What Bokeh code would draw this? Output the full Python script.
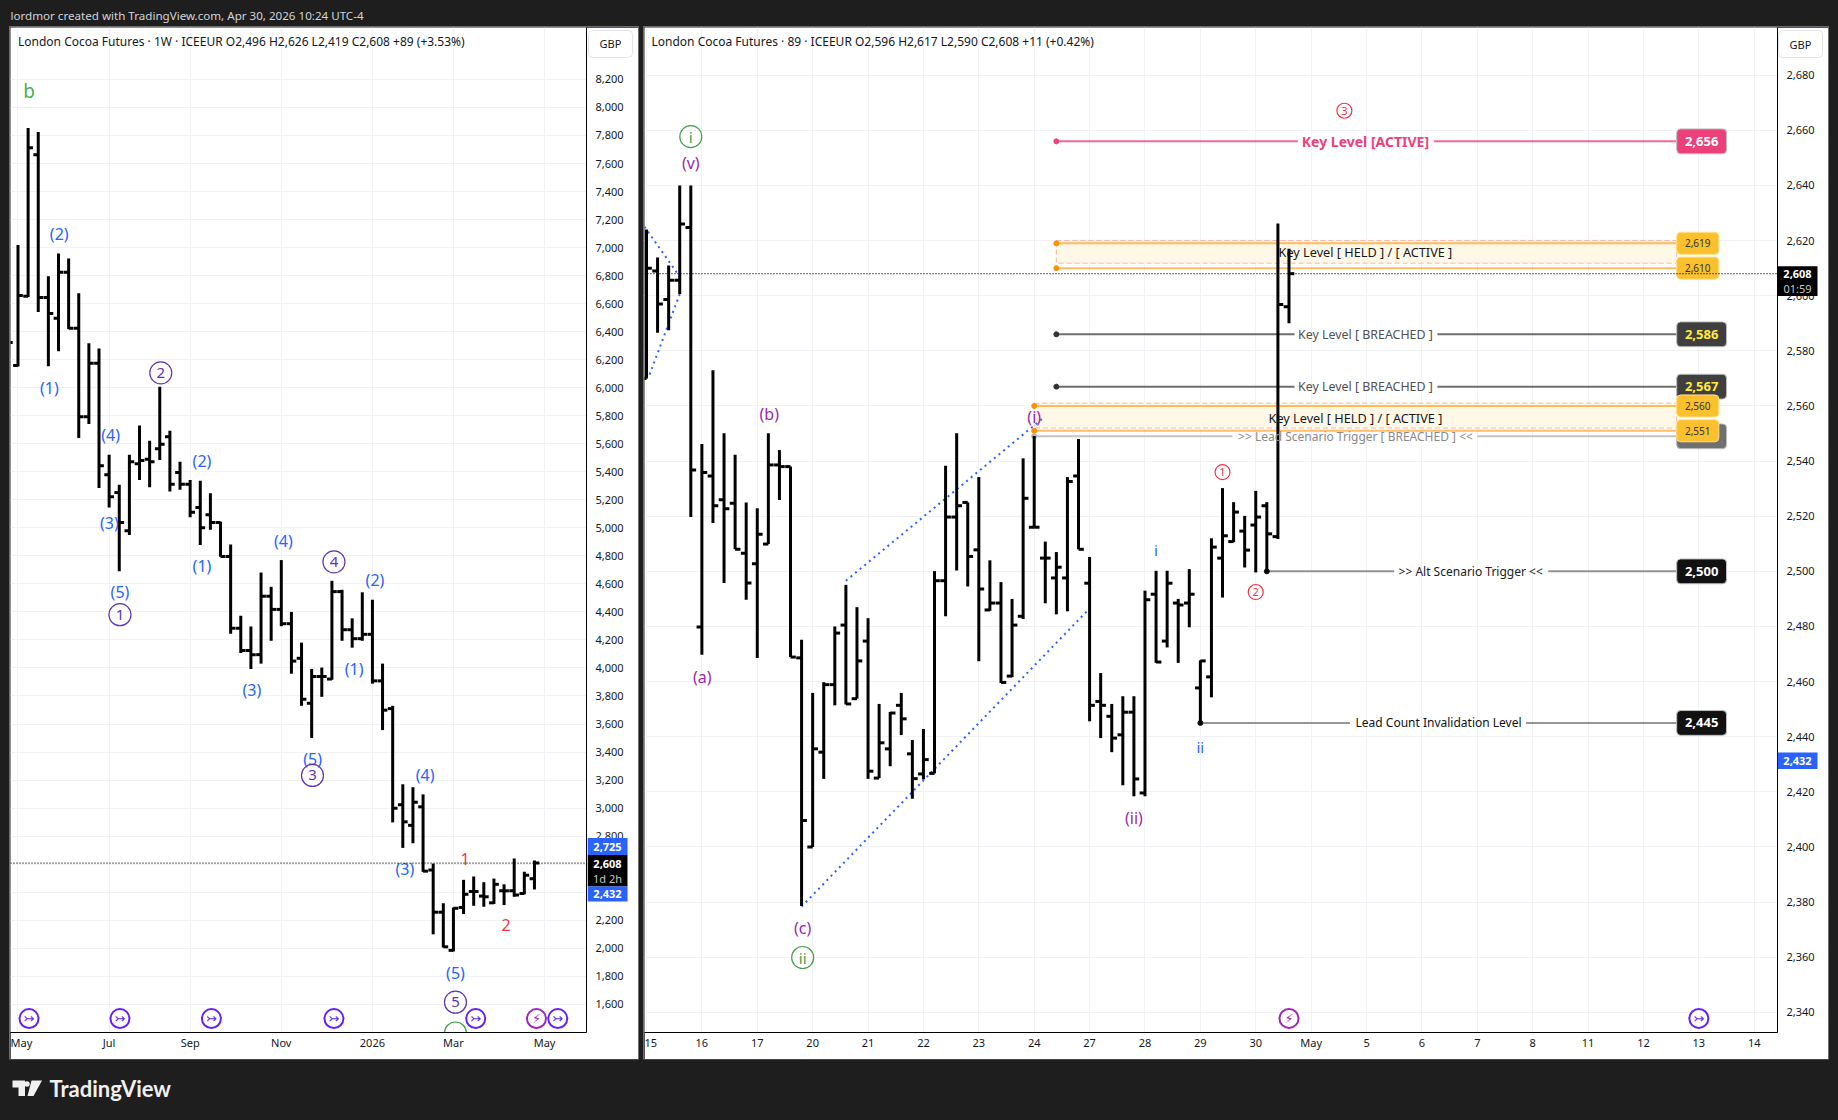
from bokeh.plotting import figure
from bokeh.embed import file_html
from bokeh.resources import INLINE
from bokeh.layouts import column, row
from bokeh.models import (Range1d, FixedTicker, Span, Label, NumeralTickFormatter,
                          GlobalInlineStyleSheet)
from bokeh.core.properties import value

FONT = "Noto Sans"
DARK = "#1e1e1e"
GRID = "#f1f2f5"
BLUE = "#2962ff"
PURPLE = "#5e35b1"
MAGENTA = "#9c27b0"
GREEN = "#43a047"
RED = "#f23645"
VIOLET = "#651fff"

# ---------------- weekly chart data ----------------
w_open = [6500, 6159, 6653, 7662, 6643, 6495, 6824, 6424, 5792, 6174, 5379, 5252, 4979, 5458, 5489, 5565, 5650, 5395,
          5311, 5145, 5094, 5038, 4796, 4283, 4125, 4095, 4512, 4418, 4316, 4069, 3748, 3939, 3921, 4545, 4273, 4209,
          4240, 3908, 3710, 3024, 2877, 3009, 2558, 2257, 1985, 2291, 2405, 2372, 2324, 2410, 2410, 2390, 2496]
w_high = [6800, 7018, 7853, 7825, 6796, 6957, 6923, 6674, 6317, 6279, 5522, 5308, 5522, 5731, 5621, 6006, 5693, 5471,
          5341, 5336, 5247, 5043, 4882, 4372, 4296, 4681, 4579, 4770, 4400, 4181, 3993, 4003, 4622, 4558, 4354, 4540,
          4487, 4031, 3730, 3170, 3149, 3098, 2604, 2321, 2291, 2488, 2512, 2471, 2497, 2456, 2640, 2545, 2626]
w_low = [5900, 6151, 6648, 6541, 6154, 6261, 6419, 5642, 5741, 5285, 5145, 4691, 4949, 5341, 5290, 5484, 5260, 5272,
         5076, 4877, 4987, 4793, 4245, 4107, 3993, 4031, 4194, 4298, 3959, 3730, 3501, 3794, 3916, 4194, 4145, 4194,
         3888, 3557, 2898, 2716, 2749, 2545, 2099, 2005, 1977, 2244, 2303, 2296, 2316, 2308, 2367, 2385, 2419]
w_close = [6322, 6658, 7713, 6643, 6529, 6824, 6424, 5792, 6174, 5443, 5221, 5038, 5471, 5481, 5471, 5596, 5311, 5311,
           5112, 5000, 5038, 4796, 4283, 4125, 4095, 4512, 4418, 4316, 4049, 3777, 3939, 3939, 4545, 4273, 4209, 4240,
           3908, 3699, 2999, 2902, 3042, 2550, 2257, 2010, 2285, 2385, 2405, 2367, 2456, 2410, 2380, 2520, 2608]
w_ticks = [1, 10, 18, 27, 36, 44, 53]
w_tick_labels = ["May", "Jul", "Sep", "Nov", "2026", "Mar", "May"]
w_yticks = list(range(1600, 8400, 200))

w_blue_text = ["(2)", "(1)", "(4)", "(3)", "(5)", "(2)", "(1)", "(4)", "(2)", "(1)", "(3)", "(5)", "(4)", "(3)", "(5)"]
w_blue_x = [5.07, 4.1, 10.15, 10.03, 11.07, 19.17, 19.17, 27.2, 36.25, 34.2, 24.1, 30.1, 41.2, 39.2, 44.2]
w_blue_y = [7097, 5998, 5662, 5038, 4545, 5476, 4729, 4908, 4627, 3993, 3845, 3353, 3236, 2568, 1824]
w_circ_text = ["1", "2", "3", "4", "5"]
w_circ_x = [11.07, 15.1, 30.08, 32.2, 44.2]
w_circ_y = [4380, 6106, 3233, 4757, 1615]
w_red_text = ["1", "2"]
w_red_x = [45.15, 49.2]
w_red_y = [2640, 2166]
w_arrow_x = [2.09, 11.07, 20.1, 32.2, 46.2, 54.3]
w_bolt_x = [52.2]
w_icon_y = 1498

w_tag_top = [2786, 2665, 2441]
w_tag_bot = [2665, 2441, 2334]
w_tag_col = [BLUE, "black", BLUE]
w_tag_text = ["2,725", "2,608", "1d 2h", "2,432"]
w_tag_y = [2725, 2601, 2495, 2387]
w_tag_fg = ["white", "white", "#c8c8c8", "white"]
w_tag_style = ["bold", "bold", "normal", "bold"]
w_gbp_top, w_gbp_bot = 8549, 8357

# ---------------- 89 minute chart data ----------------
h_open = [2570, 2609, 2598.6, 2605.6, 2624.7, 2479.8, 2534.6, 2526, 2524.7, 2506.6, 2502.8, 2509.9, 2538.6, 2538,
          2468.6, 2400, 2434.4, 2458.9, 2480.5, 2453.8, 2474.7, 2425, 2435.6, 2451.4, 2433.8, 2426.5, 2426.7, 2496.6,
          2519.7, 2525, 2507.8, 2486, 2488.5, 2462, 2483.7, 2516, 2504.8, 2497.6, 2497.6, 2534.6, 2495.7, 2452.8,
          2447.4, 2440.7, 2448.9, 2419.6, 2491.7, 2474.7, 2488.5, 2488.5, 2457.7, 2461.7, 2504.8, 2510.8, 2514.6,
          2516.8, 2523.8, 2512.6, 2596]
h_high = [2624, 2613.9, 2611, 2640, 2640, 2546.2, 2573, 2550.1, 2542.3, 2525, 2522.9, 2550.1, 2544, 2538, 2475.2,
          2455.9, 2459.8, 2480, 2495.1, 2487, 2483, 2451.9, 2449, 2455.9, 2438.8, 2442.8, 2500.1, 2538.3, 2550.1, 2525,
          2534.2, 2504, 2496.1, 2490, 2541, 2549.1, 2510.8, 2507, 2534.2, 2548, 2505.2, 2463.1, 2451.9, 2454.7, 2454.7,
          2493, 2500.2, 2500.2, 2490, 2500.8, 2467.7, 2512, 2530.2, 2525.1, 2520.1, 2529.2, 2525.1, 2626.2, 2617]
h_low = [2570, 2586.6, 2587.5, 2600.6, 2519.7, 2469.7, 2517.5, 2495.8, 2508, 2489.7, 2468.6, 2509.9, 2525.9, 2468.9,
         2378.6, 2400, 2424.7, 2451.4, 2451.7, 2453.8, 2424.7, 2425, 2429.3, 2440.6, 2417.5, 2424.5, 2426.7, 2483.7,
         2500.3, 2494.5, 2467.4, 2485.7, 2459.5, 2461.6, 2482.7, 2516, 2488.4, 2484.4, 2485.5, 2508, 2445.6, 2439.5,
         2434.4, 2422.4, 2418.4, 2418.4, 2466.8, 2472.4, 2466.8, 2479.7, 2444.8, 2454.3, 2490.5, 2510.6, 2501.4,
         2499.6, 2499.6, 2511.7, 2590]
h_close = [2610, 2597, 2605.6, 2626, 2536.8, 2535.9, 2523.8, 2522.7, 2508, 2495.8, 2513.5, 2538.6, 2538, 2468.9, 2409.6,
           2435.6, 2458.9, 2477.6, 2451.9, 2467.5, 2427.5, 2437.8, 2448.6, 2446.5, 2424.8, 2431.7, 2496.6, 2519.7,
           2523.8, 2505.4, 2493.6, 2488.5, 2459.7, 2480.5, 2526.5, 2516, 2504.8, 2501.5, 2532.6, 2508, 2451.4, 2451.4,
           2439.5, 2448.9, 2424.7, 2489.7, 2467.1, 2495.7, 2487.8, 2491.7, 2467.5, 2508.8, 2512.9, 2521.5, 2507.7,
           2519.7, 2513.6, 2596.8, 2608]
h_ticks = [0, 5, 10, 15, 20, 25, 30, 35, 40, 45, 50, 55, 60, 65, 70, 75, 80, 85, 90, 95, 100]
h_tick_labels = ["15", "16", "17", "20", "21", "22", "23", "24", "27", "28", "29", "30", "May", "5", "6", "7", "8",
                 "11", "12", "13", "14"]
h_yticks = list(range(2340, 2700, 20))

lvl_price = [2656, 2586, 2567, 2549, 2500, 2445]
lvl_start = [37, 37, 37, 35, 56, 50]
lvl_end = [93, 93, 93, 93, 93, 93]
lvl_gap_l = [58.8, 58.5, 58.5, 52.9, 67.5, 63.5]
lvl_gap_r = [71.1, 71.4, 71.4, 75.0, 81.4, 79.4]
lvl_text = ["Key Level [ACTIVE]", "Key Level [ BREACHED ]", "Key Level [ BREACHED ]",
            ">> Lead Scenario Trigger [ BREACHED ] <<", ">> Alt Scenario Trigger <<", "Lead Count Invalidation Level"]
lvl_text_x = [64.9, 64.9, 64.9, 64.0, 74.4, 71.5]
lvl_text_size = ["14px", "12.4px", "12.4px", "12px", "12px", "12px"]
lvl_line = ["#f0407a", "#4a4a4a", "#4a4a4a", "#b4b4b4", "#7a7a7a", "#7a7a7a"]
lvl_dot = ["#f0407a", "#333333", "#333333", "#b4b4b4", "#111111", "#111111"]
lvl_txt_col = ["#f0407a", "#505050", "#505050", "#8a8a8a", "#222222", "#111111"]
lvl_tag_bg = ["#ec407a", "#3f3f3f", "#3f3f3f", "#707070", "#111111", "#111111"]
lvl_tag_fg = ["#ffffff", "#ffeb3b", "#ffeb3b", "#707070", "#ffffff", "#ffffff"]
tag_half = 4.5
tag_left, tag_right = 93, 97.5
small_half = 4
small_left, small_right = 93, 96.8

band_top = [2620, 2561]
band_bot = [2611.8, 2552]
band_hi = [2619, 2560]
band_lo = [2610, 2551]
band_start = [37, 35]
band_end = [93, 93]
band_text = ["Key Level [ HELD ] / [ ACTIVE ]", "Key Level [ HELD ] / [ ACTIVE ]"]
band_text_x = [64.9, 64.0]
band_text_y = [2616, 2555.5]

tl_x0 = [14, 18, -0.18, 3.0]
tl_y0 = [2378.4, 2496.6, 2625, 2600.6]
tl_x1 = [39.75, 35.95, 3.0, 0.15]
tl_y1 = [2485.5, 2556.1, 2606.9, 2570]

h_purple_text = ["(v)", "(b)", "(i)", "(a)", "(c)", "(ii)"]
h_purple_x = [4.0, 11.08, 35.0, 5.03, 14.1, 44.0]
h_purple_y = [2648, 2557.1, 2556.1, 2461.7, 2370.7, 2410.6]
h_green_text = ["i", "ii"]
h_green_x = [4.0, 14.1]
h_green_y = [2657.7, 2359.9]
h_blue_text = ["i", "ii"]
h_blue_x = [46, 50]
h_blue_y = [2507.8, 2436.3]
h_red_text = ["1", "2", "3"]
h_red_x = [52, 55, 63]
h_red_y = [2536, 2492.5, 2667.1]
h_arrow_x = [95]
h_bolt_x = [58]
h_icon_y = 2337.8

h_tag_top = [2610.7, 2434.3]
h_tag_bot = [2599.9, 2428.3]
h_tag_col = ["black", BLUE]
h_tag_text = ["2,608", "01:59", "2,432"]
h_tag_y = [2608, 2602.6, 2431.3]
h_tag_fg = ["white", "#c8c8c8", "white"]
h_tag_style = ["bold", "normal", "bold"]
h_gbp_top, h_gbp_bot = 2696.2, 2686.4


def price_fig(w, xr, yr, yticks, xticks, xlabels, right):
    p = figure(width=w, height=1032, frame_width=w - right, frame_height=1005,
               x_range=Range1d(*xr), y_range=Range1d(*yr), y_axis_location="right",
               output_backend="svg", toolbar_location=None, min_border_left=0, min_border_right=right,
               min_border_top=0, min_border_bottom=27, background_fill_color="white", border_fill_color="white")
    p.outline_line_color = None
    p.xaxis.ticker = FixedTicker(ticks=xticks)
    p.yaxis.ticker = FixedTicker(ticks=yticks)
    p.xaxis.major_label_overrides = dict(zip(xticks, xlabels))
    p.yaxis.formatter = NumeralTickFormatter(format="0,0")
    for ax in (p.xaxis, p.yaxis):
        ax.axis_line_color = "black"
        ax.axis_line_width = 1
        ax.major_tick_line_color = None
        ax.major_tick_out = 0
        ax.major_tick_in = 0
        ax.minor_tick_line_color = None
        ax.major_label_text_font = FONT
        ax.major_label_text_font_size = "11px"
        ax.major_label_text_color = "#131722"
    p.xaxis.major_label_standoff = 2
    p.yaxis.major_label_standoff = 9
    p.grid.grid_line_color = GRID
    p.grid.grid_line_width = 1
    p.styles = {"box-shadow": "0 0 0 1px #6e6e6e"}
    return p


def ohlc(p, o, h, l, c):
    xs = list(range(len(o)))
    p.segment(xs, h, xs, l, line_color="black", line_width=3)
    p.segment([x - 0.48 for x in xs], o, xs, o, line_color="black", line_width=3)
    p.segment(xs, c, [x + 0.48 for x in xs], c, line_color="black", line_width=3)


def texts(p, xs, ys, tx, color, size, bold=False):
    p.text(xs, ys, text=tx, text_color=color, text_font=value(FONT), text_font_size=size,
           text_align="center", text_baseline="middle", text_font_style="bold" if bold else "normal")


def circled(p, xs, ys, tx, color, d, size):
    p.scatter(xs, ys, marker="circle", size=d, fill_color=None, line_color=color, line_width=1.2)
    texts(p, xs, ys, tx, color, size)


def icons(p, xs, y, txt, color):
    ys = [y] * len(xs)
    p.scatter(xs, ys, marker="circle", size=19, fill_color="white", line_color=color, line_width=2)
    p.text(xs, ys, text=[txt] * len(xs), text_color=color, text_font=value("DejaVu Sans"), text_font_size="13px",
           text_align="center", text_baseline="middle")


def legend_text(p, x, txt):
    p.add_layout(Label(x=x, y=991, x_units="screen", y_units="screen", text=txt, text_color="#131722",
                       text_font=FONT, text_font_size="12px", text_baseline="middle"))


def axis_strip(main, left_px, tops, bots, cols, labels, label_y, label_fg, styles, gbp_top, gbp_bot):
    """Transparent strip over the price axis: it shares the chart's price range, and holds the tags."""
    s = figure(width=51, height=1005, frame_width=51, frame_height=1005, x_range=Range1d(0, 51), y_range=main.y_range,
               output_backend="svg", toolbar_location=None, min_border_left=0, min_border_right=0, min_border_top=0,
               min_border_bottom=0, x_axis_type=None, y_axis_type=None,
               background_fill_color=None, border_fill_color=None)
    s.outline_line_color = None
    s.grid.visible = False
    s.styles = {"position": "absolute", "left": f"{left_px}px", "top": "0px"}
    s.quad(left=[1], right=[45], top=[gbp_top], bottom=[gbp_bot], fill_color="white", line_color="#e0e3eb",
           border_radius=4)
    texts(s, [23], [(gbp_top + gbp_bot) / 2], ["GBP"], "#131722", "11px")
    n = len(tops)
    s.quad(left=[0] * n, right=[40] * n, top=tops, bottom=bots, fill_color=cols, line_color=None)
    s.text([20] * len(labels), label_y, text=labels, text_color=label_fg, text_font=value(FONT),
           text_font_size="11px", text_align="center", text_baseline="middle", text_font_style=styles)
    return s


# ---------------- left panel ----------------
p1 = price_fig(628, (0.26, 57.14), (1398.6, 8570.6), w_yticks, w_ticks, w_tick_labels, 52)
p1.margin = (0, 6, 0, 10)
ohlc(p1, w_open, w_high, w_low, w_close)
p1.add_layout(Span(location=2608, dimension="width", line_color="black", line_width=1.3, line_dash="1 2"))
texts(p1, [2.09], [8118], ["b"], "#4caf50", "19px")
texts(p1, w_blue_x, w_blue_y, w_blue_text, BLUE, "16px")
circled(p1, w_circ_x, w_circ_y, w_circ_text, PURPLE, 22, "15px")
texts(p1, w_red_x, w_red_y, w_red_text, RED, "16px")
p1.scatter([44.2], [1395], marker="circle", size=22, fill_color=None, line_color=GREEN, line_width=1.2)
icons(p1, w_arrow_x, w_icon_y, "\u21a3", VIOLET)
icons(p1, w_bolt_x, w_icon_y, "\u26a1", MAGENTA)
legend_text(p1, 7.5, "London Cocoa Futures \u00b7 1W \u00b7 ICEEUR  O2,496  H2,626  L2,419  C2,608  +89 (+3.53%)")

# ---------------- right panel ----------------
p2 = price_fig(1184, (-0.18, 102.1), (2332.7, 2697.3), h_yticks, h_ticks, h_tick_labels, 51)
p2.quad(left=band_start, right=band_end, top=band_top, bottom=band_bot, fill_color="#fff8e7",
        line_color="#ffb3a7", line_dash="5 3", line_width=1)
for hi in (band_hi, band_lo):
    p2.segment(band_start, hi, band_end, hi, line_color="#ff9100", line_width=2, line_alpha=0.6)
p2.scatter(band_start + band_start, band_hi + band_lo, marker="circle", size=5, fill_color="#ff9100",
           line_color="#ff9100")
p2.segment(lvl_start, lvl_price, lvl_gap_l, lvl_price, line_color=lvl_line, line_width=2, line_alpha=0.8)
p2.segment(lvl_gap_r, lvl_price, lvl_end, lvl_price, line_color=lvl_line, line_width=2, line_alpha=0.8)
p2.scatter(lvl_start, lvl_price, marker="circle", size=5, fill_color=lvl_dot, line_color=lvl_dot)
p2.segment(tl_x0, tl_y0, tl_x1, tl_y1, line_color=BLUE, line_width=2, line_dash="2 4")
ohlc(p2, h_open, h_high, h_low, h_close)
p2.add_layout(Span(location=2608, dimension="width", line_color="black", line_width=1.3, line_dash="1 2"))
texts(p2, h_purple_x, h_purple_y, h_purple_text, MAGENTA, "16px")
circled(p2, h_green_x, h_green_y, h_green_text, GREEN, 22, "15px")
texts(p2, h_blue_x, h_blue_y, h_blue_text, BLUE, "15px")
circled(p2, h_red_x, h_red_y, h_red_text, RED, 15, "11px")
icons(p2, h_arrow_x, h_icon_y, "\u21a3", VIOLET)
icons(p2, h_bolt_x, h_icon_y, "\u26a1", MAGENTA)
legend_text(p2, 7.0, "London Cocoa Futures \u00b7 89 \u00b7 ICEEUR  O2,596  H2,617  L2,590  C2,608  +11 (+0.42%)")

for i in range(len(lvl_price)):
    texts(p2, [lvl_text_x[i]], [lvl_price[i]], [lvl_text[i]], lvl_txt_col[i], lvl_text_size[i], bold=i == 0)
order = [3, 0, 1, 2, 4, 5]
p2.quad(left=tag_left, right=tag_right,
        top=[lvl_price[i] + tag_half for i in order], bottom=[lvl_price[i] - tag_half for i in order],
        fill_color=[lvl_tag_bg[i] for i in order], line_color="#bdbdbd", border_radius=4)
for i in order:
    if i != 3:
        texts(p2, [(tag_left + tag_right) / 2], [lvl_price[i]], [f"{lvl_price[i]:,}"], lvl_tag_fg[i], "13px", bold=True)
for i in range(len(band_text)):
    texts(p2, [band_text_x[i]], [band_text_y[i]], [band_text[i]], "#131722", "12.7px")
small = band_hi + band_lo
p2.quad(left=small_left, right=small_right, top=[v + small_half for v in small], bottom=[v - small_half for v in small],
        fill_color="#fbc02d", line_color="#ffe082", border_radius=4)
texts(p2, [(small_left + small_right) / 2] * 4, small, [f"{v:,}" for v in small], "#333333", "10px")

s1 = axis_strip(p1, 587, w_tag_top, w_tag_bot, w_tag_col, w_tag_text, w_tag_y, w_tag_fg, w_tag_style, w_gbp_top, w_gbp_bot)
s2 = axis_strip(p2, 1777, h_tag_top, h_tag_bot, h_tag_col, h_tag_text, h_tag_y, h_tag_fg, h_tag_style, h_gbp_top, h_gbp_bot)

# ---------------- header and footer strips ----------------
top = figure(width=1838, height=27, x_range=Range1d(0, 1838), y_range=Range1d(0, 27), output_backend="svg",
             toolbar_location=None, min_border=0, background_fill_color=DARK, border_fill_color=DARK)
top.axis.visible = False
top.grid.visible = False
top.outline_line_color = None
top.text([10], [12.5], text=["lordmor created with TradingView.com, Apr 30, 2026 10:24 UTC-4"], text_color="#d1d4dc",
         text_font=value(FONT), text_font_size="11.6px", text_baseline="middle")

foot = figure(width=1838, height=61, x_range=Range1d(0, 1838), y_range=Range1d(0, 61), output_backend="svg",
              toolbar_location=None, min_border=0, background_fill_color=DARK, border_fill_color=DARK)
foot.axis.visible = False
foot.grid.visible = False
foot.outline_line_color = None
foot.patches([[12, 24.5, 24.5, 18, 18, 12], [31, 41.5, 33, 27]], [[40, 40, 24.5, 24.5, 33, 33], [40, 40, 24.5, 24.5]],
             fill_color="#f0f0f0", line_color=None)
foot.scatter([26.5], [36.5], marker="circle", size=5.5, fill_color="#f0f0f0", line_color=None)
foot.text([49], [32.4], text=["TradingView"], text_color="#f0f0f0", text_font=value("Lato"), text_font_size="22px",
          text_baseline="middle", text_font_style="bold")

middle = row(p1, p2, s1, s2, spacing=0)
middle.styles = {"position": "relative"}
root = column(top, middle, foot, spacing=0)
root.stylesheets = [GlobalInlineStyleSheet(css=f"html, body {{ background: {DARK}; }}")]

open("out.html", "w").write(file_html(root, INLINE))
